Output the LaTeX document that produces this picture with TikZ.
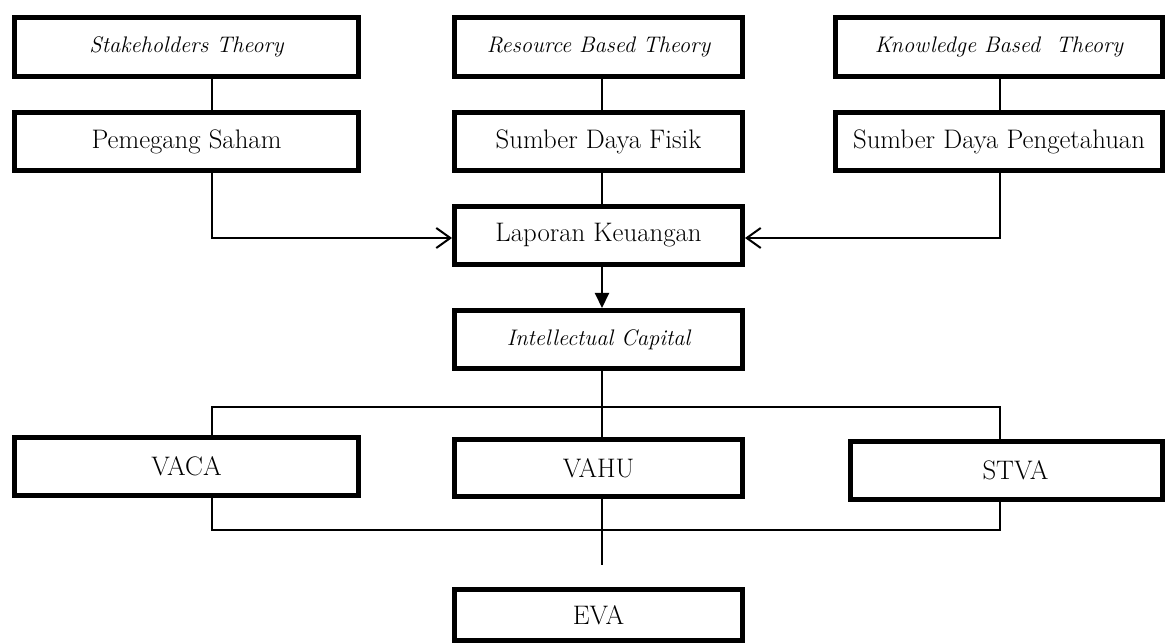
\documentclass[tikz,border=0pt]{standalone}
\usetikzlibrary{arrows.meta}
\begin{document}
\begin{tikzpicture}[x=1pt,y=-1pt,
  box/.style={draw, line width=5pt, rectangle, inner sep=0pt, outer sep=2.5pt,
    font=\fontsize{26.8}{32}\selectfont},
  itbox/.style={box, font=\fontsize{22.5}{27}\selectfont\itshape},
  conn/.style={line width=1.5pt},
  openarrow/.style={line width=2pt, -{Straight Barb[length=14pt,width=20pt]}},
  fillarrow/.style={line width=2pt, -{Triangle[length=15pt,width=14pt]}}]
\useasboundingbox (0,0) rectangle (1170,644);
\coordinate (xl) at (212,0);
\coordinate (xm) at (602,0);
\coordinate (xr) at (1000,0);
\coordinate (ay) at (0,238);
\coordinate (bt) at (0,407);
\coordinate (bb) at (0,530);
\coordinate (ve) at (602,565);

\node[itbox, minimum width=344pt, minimum height=59pt] (st) at (186.5,47) {Stakeholders Theory};
\node[itbox, minimum width=288pt, minimum height=59pt] (rb) at (598.5,47) {Resource Based Theory};
\node[itbox, minimum width=327pt, minimum height=59pt] (kb) at (999,47) {Knowledge Based\ \ Theory};

\node[box, minimum width=344pt, minimum height=58pt] (ps) at (186.5,141.5) {Pemegang Saham};
\node[box, minimum width=288pt, minimum height=58pt] (sf) at (598.5,141.5) {Sumber Daya Fisik};
\node[box, minimum width=327pt, minimum height=58pt] (sp) at (999,141.5) {Sumber Daya Pengetahuan};

\node[box, minimum width=288pt, minimum height=58pt] (lk) at (598.5,235.5) {Laporan Keuangan};
\node[itbox, minimum width=288pt, minimum height=58pt] (ic) at (598.5,339.5) {Intellectual Capital};

\node[box, minimum width=344pt, minimum height=58pt] (vaca) at (186.5,466.5) {VACA};
\node[box, minimum width=288pt, minimum height=57pt] (vahu) at (598.5,468) {VAHU};
\node[box, minimum width=312pt, minimum height=58pt, text width=312pt, align=center] (stva) at (1006.5,470.5) {\hspace*{18pt}STVA};

\node[box, minimum width=288pt, minimum height=51pt] (eva) at (598.5,615) {EVA};

\draw[conn] (st.south -| xl) -- (ps.north -| xl);
\draw[conn] (rb.south -| xm) -- (sf.north -| xm);
\draw[conn] (kb.south -| xr) -- (sp.north -| xr);
\draw[conn] (sf.south -| xm) -- (lk.north -| xm);

\draw[openarrow] (ps.south -| xl) |- (lk.west |- ay);
\draw[openarrow] (sp.south -| xr) |- (lk.east |- ay);
\draw[fillarrow] (lk.south -| xm) -- (ic.north -| xm);

\draw[conn] (ic.south -| xm) -- (vahu.north -| xm);
\draw[conn] (vaca.north -| xl) -- (bt -| xl) -- (bt -| xr) -- (stva.north -| xr);
\draw[conn] (vaca.south -| xl) -- (bb -| xl) -- (bb -| xr) -- (stva.south -| xr);
\draw[conn] (vahu.south -| xm) -- (ve);
\end{tikzpicture}
\end{document}
